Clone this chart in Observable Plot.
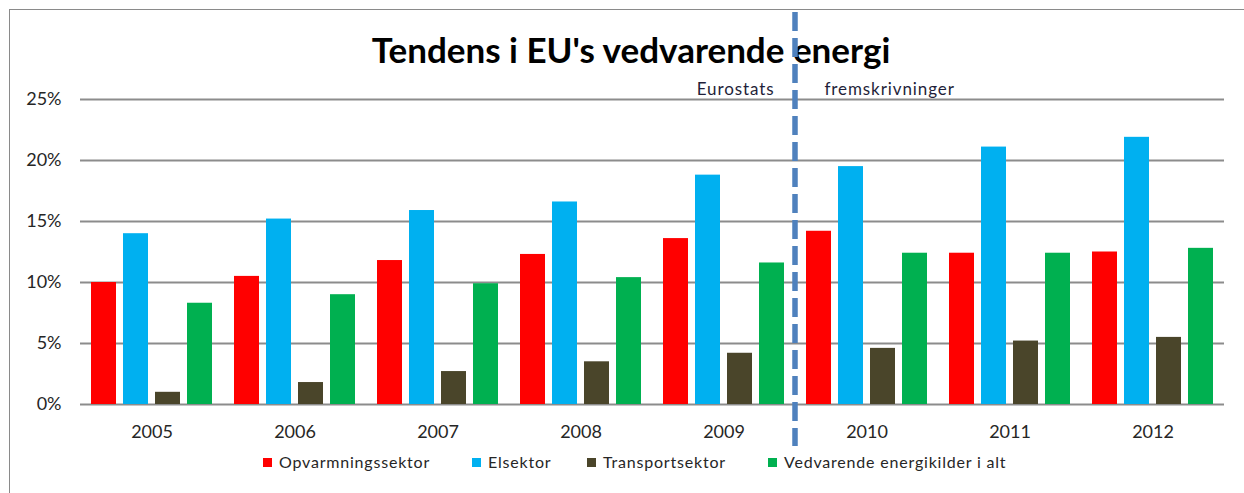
<!DOCTYPE html>
<html><head><meta charset="utf-8">
<script src="https://cdn.jsdelivr.net/npm/d3@7"></script>
<script src="https://cdn.jsdelivr.net/npm/@observablehq/plot@0.6"></script>
<style>
body{margin:0;background:#fff;}
#wrap{position:relative;width:1244px;height:493px;overflow:hidden;font-family:Lato, sans-serif;}
#border{position:absolute;left:9px;top:9px;width:1400px;height:700px;border-top:1.5px solid #8a8a8a;border-left:1.5px solid #8a8a8a;}
#wrap svg{position:absolute;left:0;top:0;}
</style></head><body><div id="wrap"><div id="border"></div></div>
<script>
const years = ["2005","2006","2007","2008","2009","2010","2011","2012"];
const series = ["Opvarmningssektor","Elsektor","Transportsektor","Vedvarende energikilder i alt"];
const colors = ["#FF0000","#00B0F0","#4A452A","#00B050"];
const opvarmning = [10.0, 10.5, 11.8, 12.3, 13.6, 14.2, 12.4, 12.5];
const elsektor   = [14.0, 15.2, 15.9, 16.6, 18.8, 19.5, 21.1, 21.9];
const transport  = [1.0, 1.8, 2.7, 3.5, 4.2, 4.6, 5.2, 5.5];
const vedvarende = [8.3, 9.0, 9.9, 10.4, 11.6, 12.4, 12.4, 12.8];
const yTicks = [0, 5, 10, 15, 20, 25];
const yTickLabels = ["0%","5%","10%","15%","20%","25%"];
const title = "Tendens i EU's vedvarende energi";
const notes = ["Eurostats","fremskrivninger"];

const valuesBySeries = [opvarmning, elsektor, transport, vedvarende];
const rows = [];
years.forEach((yr, i) => series.forEach((s, j) => rows.push({year: yr, series: s, value: valuesBySeries[j][i]})));

const plot = Plot.plot({
  width: 1244, height: 493,
  marginTop: 99, marginBottom: 89, marginLeft: 79, marginRight: 20,
  style: {fontFamily: "Lato, sans-serif", fontSize: "18px", color: "#262626", background: "transparent", overflow: "visible"},
  fx: {domain: years, padding: 0, label: null, tickSize: 0, tickPadding: 21, axis: "bottom"},
  x: {domain: series, axis: null, paddingInner: 0.215, paddingOuter: 0.3075},
  y: {domain: [0, 25], ticks: yTicks, tickFormat: d => yTickLabels[yTicks.indexOf(d)], tickSize: 0, tickPadding: 19, label: null},
  color: {domain: series, range: colors},
  marks: [
    Plot.ruleY(yTicks, {stroke: "#8c8c8c", strokeWidth: 2}),
    Plot.barY(rows, {fx: "year", x: "series", y: "value", fill: "series"}),
    Plot.text([notes[0]], {fx: () => years[4], frameAnchor: "top-right", textAnchor: "end", lineAnchor: "bottom", dx: -21, dy: -5, fontSize: 17, fill: "#1f1f3a", text: d => d}),
    Plot.text([notes[1]], {fx: () => years[5], frameAnchor: "top-left", textAnchor: "start", lineAnchor: "bottom", dx: 29, dy: -5, fontSize: 17, fill: "#1f1f3a", text: d => d})
  ]
});
document.getElementById("wrap").appendChild(plot);
const svg = d3.select(plot);
svg.selectAll("text").filter(function(){ return this.textContent === notes[0] || this.textContent === notes[1]; }).style("letter-spacing", "0.9px");

// title
svg.append("text").attr("x", 631).attr("y", 63).attr("text-anchor", "middle")
  .attr("font-family", "Lato, sans-serif").attr("font-weight", "bold").attr("font-size", 35).attr("fill", "#000").text(title);

// dashed divider between Eurostat data and projections
const fxs = plot.scale("fx");
const xd = fxs.apply(years[5]);
svg.append("line").attr("x1", xd).attr("x2", xd).attr("y1", 12).attr("y2", 446)
  .attr("stroke", "#4F81BD").attr("stroke-width", 5.5).attr("stroke-dasharray", "19,7");

// legend
const legendX = [263, 472, 587, 768];
const lg = svg.append("g").attr("text-anchor", "start");
series.forEach((s, i) => {
  lg.append("rect").attr("x", legendX[i]).attr("y", 458).attr("width", 9).attr("height", 9).attr("fill", colors[i]);
  lg.append("text").attr("x", legendX[i] + 16).attr("y", 468).attr("text-anchor", "start").attr("font-size", 16).attr("letter-spacing", "0.8px")
    .attr("fill", "#262626").text(s);
});
</script></body></html>
